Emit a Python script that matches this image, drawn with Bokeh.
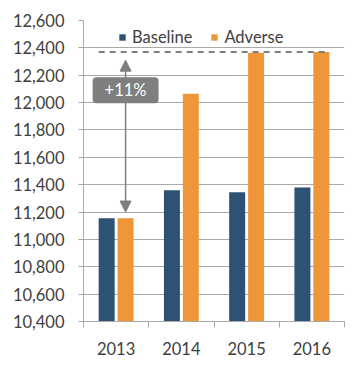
from bokeh.plotting import figure
from bokeh.models import (Range1d, FixedTicker, NumeralTickFormatter, Legend, LegendItem,
                          Arrow, NormalHead, Label, ColumnDataSource)
from bokeh.embed import file_html
from bokeh.resources import INLINE

years = ["2013", "2014", "2015", "2016"]
baseline = [11155, 11360, 11345, 11380]
adverse = [11155, 12065, 12365, 12370]
y_ticks = [10400, 10600, 10800, 11000, 11200, 11400, 11600, 11800, 12000, 12200, 12400, 12600]

BLUE = "#2d5274"
ORANGE = "#f0963a"
GREY = "#7f7f7f"
GRID = "#a9a9a9"
TXT = "#404040"
FONT = "Lato"
FS = "16.5px"

OFF = 0.145
W = 0.245

centers = [i + 0.5 for i in range(len(years))]
src = ColumnDataSource(dict(
    xb=[c - OFF for c in centers],
    xa=[c + OFF for c in centers],
    baseline=baseline,
    adverse=adverse,
))

p = figure(width=353, height=358, output_backend="svg", toolbar_location=None,
           x_range=Range1d(0, len(years)), y_range=Range1d(y_ticks[0], y_ticks[-1]),
           min_border_left=83, min_border_right=9, min_border_top=20, min_border_bottom=37)
p.outline_line_color = None
p.background_fill_color = "white"

rb = p.vbar(x="xb", top="baseline", bottom=y_ticks[0], width=W, source=src,
            fill_color=BLUE, line_color=None)
ra = p.vbar(x="xa", top="adverse", bottom=y_ticks[0], width=W, source=src,
            fill_color=ORANGE, line_color=None)

# dashed reference line at peak adverse
peak = max(adverse)
p.segment(x0=[centers[0] - OFF - W / 2], x1=[centers[-1] + OFF + W / 2],
          y0=[peak], y1=[peak], line_color=GREY, line_width=2, line_dash="6 5")

# arrow from 2013 level to peak
xa0 = centers[0] + OFF
arr = Arrow(x_start=xa0, y_start=adverse[0] + 45, x_end=xa0, y_end=peak - 60,
            line_color=GREY, line_width=1.5,
            start=NormalHead(size=11, fill_color=GREY, line_color=GREY),
            end=NormalHead(size=11, fill_color=GREY, line_color=GREY))
p.add_layout(arr)

pct = round((peak / adverse[0] - 1) * 100)
lab = Label(x=xa0, y=12090, text=f"+{pct}%", text_color="white", text_font=FONT,
            text_font_size=FS, text_align="center", text_baseline="middle",
            background_fill_color=GREY, background_fill_alpha=1.0,
            border_radius=4, padding=dict(x=12, y=3))
p.add_layout(lab)

# axes
p.yaxis.ticker = FixedTicker(ticks=y_ticks)
p.yaxis.formatter = NumeralTickFormatter(format="0,0")
p.yaxis.axis_line_color = GRID
p.yaxis.major_tick_line_color = GRID
p.yaxis.major_tick_out = 5
p.yaxis.major_tick_in = 0
p.yaxis.minor_tick_line_color = None
p.yaxis.major_label_standoff = 14
p.yaxis.major_label_text_font = FONT
p.yaxis.major_label_text_font_size = FS
p.yaxis.major_label_text_color = TXT

p.xaxis.ticker = FixedTicker(ticks=centers, minor_ticks=list(range(len(years) + 1)))
p.xaxis.major_label_overrides = {c: y for c, y in zip(centers, years)}
p.xaxis.axis_line_color = GRID
p.xaxis.major_tick_line_color = None
p.xaxis.major_tick_out = 0
p.xaxis.major_tick_in = 0
p.xaxis.minor_tick_line_color = GRID
p.xaxis.minor_tick_out = 6
p.xaxis.minor_tick_in = 0
p.xaxis.major_label_standoff = 14
p.xaxis.major_label_text_font = FONT
p.xaxis.major_label_text_font_size = FS
p.xaxis.major_label_text_color = TXT

p.xgrid.grid_line_color = None
p.ygrid.ticker = FixedTicker(ticks=y_ticks)
p.ygrid.grid_line_color = GRID
p.ygrid.grid_line_width = 1

legend = Legend(items=[LegendItem(label="Baseline", renderers=[rb]),
                       LegendItem(label="Adverse", renderers=[ra])],
                orientation="horizontal", location=(35, 274),
                glyph_width=8, glyph_height=8, label_standoff=6, spacing=18,
                padding=0, margin=0, border_line_color=None, background_fill_alpha=0,
                label_text_font=FONT, label_text_font_size=FS, label_text_color=TXT,
                label_height=20)
p.add_layout(legend)

open("out.html", "w").write(file_html(p, INLINE))
